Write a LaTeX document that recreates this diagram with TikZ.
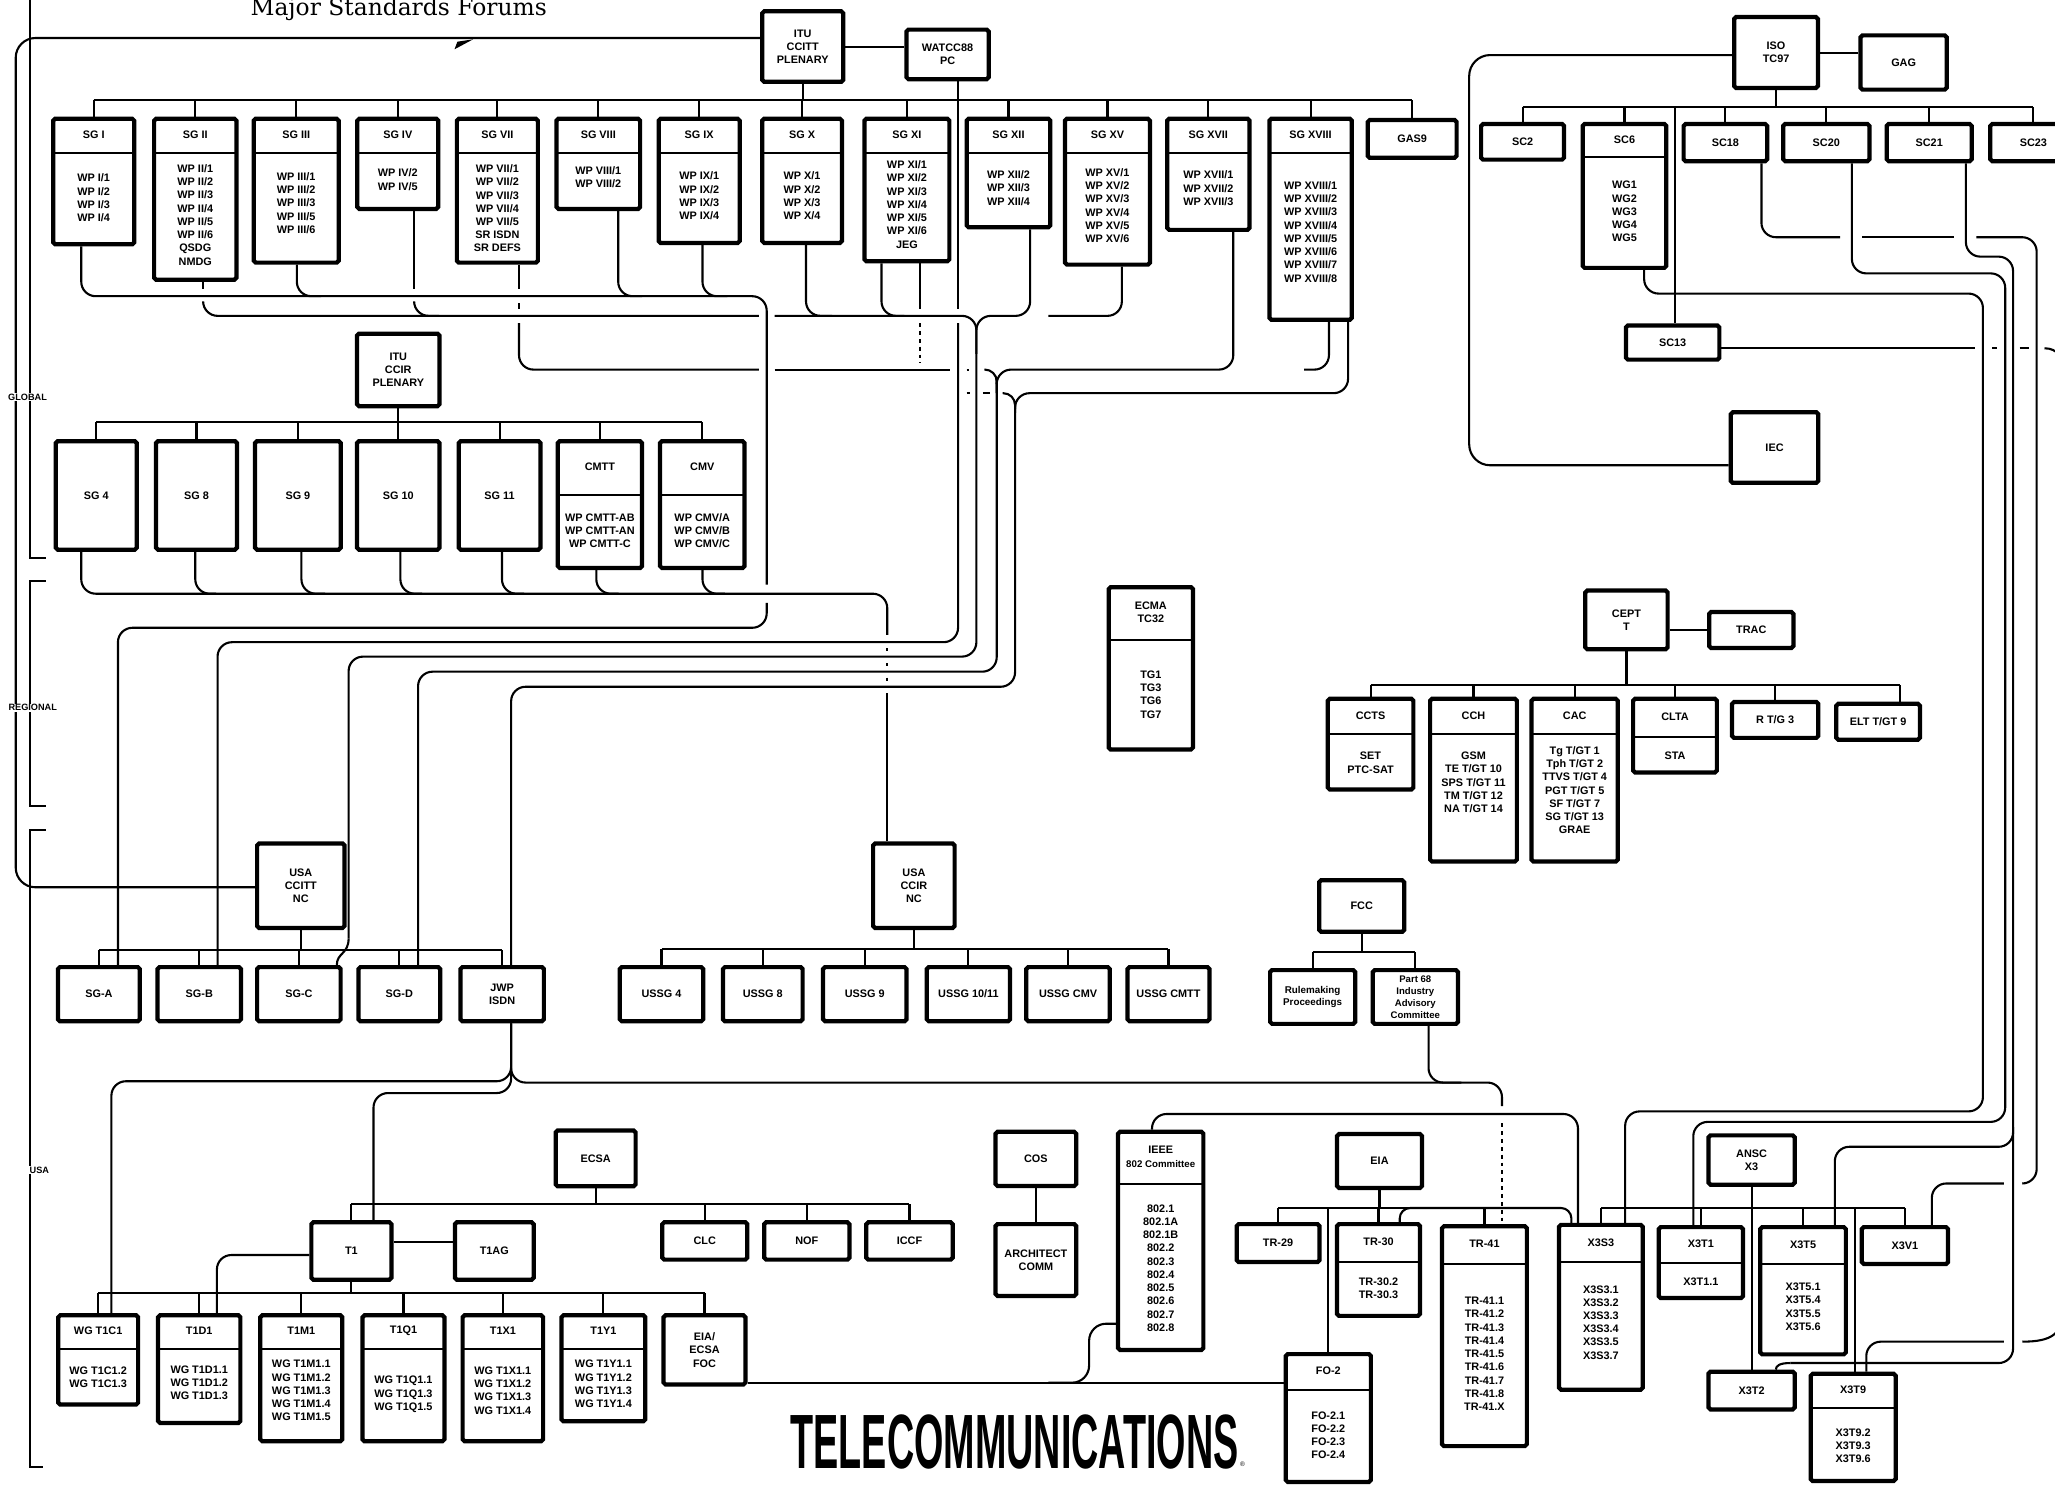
\documentclass[tikz,border=0pt]{standalone}
\usepackage{fontspec}
\usepackage{graphicx}
\newfontfamily\bxf{Liberation Sans}
\newfontfamily\ttlf{DejaVu Serif}
\usetikzlibrary{backgrounds}
\tikzset{
 bx/.style={draw, line width=3.2pt, fill=white, rounded corners=1.5pt, inner sep=1pt, align=center, font=\bxf\bfseries\fontsize{8.3}{10.1}\selectfont},
 tx/.style={inner sep=0pt, align=center, font=\bxf\bfseries\fontsize{8.3}{10.1}\selectfont},
 cn/.style={line width=1.6pt},
 rc/.style={rounded corners=11pt},
 sepl/.style={line width=1.6pt},
 brk/.style={line width=1.5pt},
 lbl/.style={fill=white, inner sep=0.6pt, font=\bxf\bfseries\fontsize{7}{8}\selectfont},
}
% plain box: [opts]{name}{x1}{y1}{x2}{y2}{text}
\newcommand{\BX}[7][]{%
 \node[bx,#1,minimum width={#5-#3-3.2},minimum height={#6-#4-3.2}] (#2) at ({(#3+#5)/2},{(#4+#6)/2}) {#7};}
% header box: {name}{x1}{y1}{x2}{y2}{sep}{bodyY}{head}{body}
\newcommand{\HB}[9]{%
 \node[bx,minimum width={#4-#2-3.2},minimum height={#5-#3-3.2}] (#1) at ({(#2+#4)/2},{(#3+#5)/2}) {};
 \draw[sepl] ({#2+1.6},#6) -- ({#4-1.6},#6);
 \node[tx] (#1-h) at ({(#2+#4)/2},{(#3+#6)/2}) {#8};
 \node[tx] (#1-b) at ({(#2+#4)/2},#7) {#9};}
\begin{document}
\begin{tikzpicture}[x=1pt,y=-1pt]
\useasboundingbox (0,0) rectangle (1568,1133);

% ---------- CCITT ----------
\BX{itu}{580}{7}{645}{64}{ITU\\CCITT\\PLENARY}
\BX{watcc}{690}{21}{756}{62}{WATCC88\\PC}
\HB{sg1}{39}{89}{104}{188}{117}{151}{SG I}{WP I/1\\WP I/2\\WP I/3\\WP I/4}
\HB{sg2}{116}{89}{182}{215}{117}{164}{SG II}{WP II/1\\WP II/2\\WP II/3\\WP II/4\\WP II/5\\WP II/6\\QSDG\\NMDG}
\HB{sg3}{192}{89}{260}{202}{117}{155}{SG III}{WP III/1\\WP III/2\\WP III/3\\WP III/5\\WP III/6}
\HB{sg4}{271}{89}{336}{161}{117}{137}{SG IV}{WP IV/2\\WP IV/5}
\HB{sg7}{347}{89}{412}{202}{117}{159}{SG VII}{WP VII/1\\WP VII/2\\WP VII/3\\WP VII/4\\WP VII/5\\SR ISDN\\SR DEFS}
\HB{sg8}{423}{89}{490}{161}{117}{135}{SG VIII}{WP VIII/1\\WP VIII/2}
\HB{sg9}{501}{89}{566}{187}{117}{149.5}{SG IX}{WP IX/1\\WP IX/2\\WP IX/3\\WP IX/4}
\HB{sg10}{580}{89}{644}{187}{117}{149.5}{SG X}{WP X/1\\WP X/2\\WP X/3\\WP X/4}
\HB{sg11}{658}{89}{726}{201}{117}{156}{SG XI}{WP XI/1\\WP XI/2\\WP XI/3\\WP XI/4\\WP XI/5\\WP XI/6\\JEG}
\HB{sg12}{736}{89}{803}{175}{117}{143.5}{SG XII}{WP XII/2\\WP XII/3\\WP XII/4}
\HB{sg15}{811}{89}{879}{203.5}{117}{157}{SG XV}{WP XV/1\\WP XV/2\\WP XV/3\\WP XV/4\\WP XV/5\\WP XV/6}
\HB{sg17}{889}{89}{955}{177}{117}{143.7}{SG XVII}{WP XVII/1\\WP XVII/2\\WP XVII/3}
\HB{sg18}{967}{89}{1033}{245.6}{117}{177}{SG XVIII}{WP XVIII/1\\WP XVIII/2\\WP XVIII/3\\WP XVIII/4\\WP XVIII/5\\WP XVIII/6\\WP XVIII/7\\WP XVIII/8}
\BX{gas9}{1042}{90}{1113}{122}{GAS9}

% ---------- CCIR ----------
\BX{ccir}{270.8}{253}{337}{311.5}{ITU\\CCIR\\PLENARY}
\BX{sg4r}{41}{335}{106}{421}{SG 4}
\BX{sg8r}{117.5}{335}{182.4}{421}{SG 8}
\BX{sg9r}{193}{335}{261.6}{421}{SG 9}
\BX{sg10r}{270.8}{335}{337}{421}{SG 10}
\BX{sg11r}{348.4}{335}{414}{421}{SG 11}
\HB{cmtt}{424}{335}{491.5}{435}{377.7}{405}{CMTT}{WP CMTT-AB\\WP CMTT-AN\\WP CMTT-C}
\HB{cmv}{502}{335}{569.7}{435}{377.7}{405}{CMV}{WP CMV/A\\WP CMV/B\\WP CMV/C}

% ---------- USA CCITT / CCIR ----------
\BX{uccitt}{194.6}{642}{264.5}{709.6}{USA\\CCITT\\NC}
\BX{sga}{42.6}{736.3}{108.3}{780.8}{SG-A}
\BX{sgb}{118.6}{736.3}{185.5}{780.8}{SG-B}
\BX{sgc}{194.6}{736.3}{261.5}{780.8}{SG-C}
\BX{sgd}{271.9}{736.3}{337.5}{780.8}{SG-D}
\BX{jwp}{349.7}{736.3}{416.6}{780.8}{JWP\\ISDN}
\BX{uccir}{664.6}{642}{730}{709.6}{USA\\CCIR\\NC}
\BX{ussga}{471.3}{736.3}{538.2}{780.8}{USSG 4}
\BX{ussgb}{550}{736.3}{614}{780.8}{USSG 8}
\BX{ussgc}{626.4}{736.3}{693.3}{780.8}{USSG 9}
\BX{ussgd}{705.5}{736.3}{772.3}{780.8}{USSG 10/11}
\BX{ussge}{781.5}{736.3}{848.4}{780.8}{USSG CMV}
\BX{ussgf}{858.7}{736.3}{924.4}{780.8}{USSG CMTT}

% ---------- ECMA ----------
\HB{ecma}{844.4}{446.4}{911.8}{573.5}{488.3}{530}{ECMA\\TC32}{TG1\\TG3\\TG6\\TG7}

% ---------- ISO ----------
\BX{iso}{1321.6}{11.4}{1388.7}{68.7}{ISO\\TC97}
\BX{gag}{1418}{25.4}{1487}{70}{GAG}
\BX{sc2}{1128.5}{93}{1195}{123.4}{SC2}
\HB{sc6}{1206}{93}{1273}{206}{119.5}{161.5}{SC6}{WG1\\WG2\\WG3\\WG4\\WG5}
\BX{sc18}{1283}{93}{1350}{124.6}{SC18}
\BX{sc20}{1359}{93}{1428}{124.6}{SC20}
\BX{sc21}{1438}{93}{1506}{124.6}{SC21}
\BX{sc23}{1517}{93}{1586}{124.6}{SC23}
\BX{sc13}{1239}{246.8}{1313.5}{276}{SC13}
\BX{iec}{1319}{313}{1389}{370}{IEC}

% ---------- CEPT ----------
\BX{cept}{1208}{449}{1274}{497}{CEPT\\T}
\BX{trac}{1302.5}{465.4}{1370}{496}{TRAC}
\HB{ccts}{1011.5}{531.6}{1080}{604}{560}{582}{CCTS}{SET\\PTC-SAT}
\HB{cch}{1089.6}{531.6}{1159}{659}{560}{597}{CCH}{GSM\\TE T/GT 10\\SPS T/GT 11\\TM T/GT 12\\NA T/GT 14}
\HB{cac}{1167}{531.6}{1236}{659}{560}{603}{CAC}{Tg T/GT 1\\Tph T/GT 2\\TTVS T/GT 4\\PGT T/GT 5\\SF T/GT 7\\SG T/GT 13\\GRAE}
\HB{clta}{1244.5}{531.6}{1311.6}{591}{562}{577}{CLTA}{STA}
\BX{rtg}{1320}{534}{1389}{564.6}{R T/G 3}
\BX{elt}{1399.5}{535.4}{1466.5}{566}{ELT T/GT 9}

% ---------- FCC ----------
\BX{fcc}{1005}{670}{1073}{712.6}{FCC}
\BX[font=\bxf\bfseries\fontsize{7.5}{9.2}\selectfont]{rule}{967.5}{738.6}{1035.6}{782.8}{Rulemaking\\Proceedings}
\BX[font=\bxf\bfseries\fontsize{7.3}{9.2}\selectfont]{part}{1045.8}{738.6}{1114}{782.8}{Part 68\\Industry\\Advisory\\Committee}

% ---------- ECSA / T1 ----------
\BX{ecsa}{422.4}{861}{486.6}{906.7}{ECSA}
\BX{tone}{236}{931}{300.3}{978}{T1}
\BX{tag}{345.5}{931}{408.8}{978}{T1AG}
\BX{clc}{503.7}{931}{571.8}{962.7}{CLC}
\BX{nof}{581.5}{931}{649.7}{962.7}{NOF}
\BX{iccf}{659.4}{931}{728.5}{962.7}{ICCF}
\HB{wga}{42.8}{1002}{107}{1073.3}{1029.5}{1051}{WG T1C1}{WG T1C1.2\\WG T1C1.3}
\HB{wgb}{119}{1002}{185}{1087.3}{1029.5}{1055}{T1D1}{WG T1D1.1\\WG T1D1.2\\WG T1D1.3}
\HB{wgc}{197}{1002}{262.8}{1101.3}{1029.5}{1061}{T1M1}{WG T1M1.1\\WG T1M1.2\\WG T1M1.3\\WG T1M1.4\\WG T1M1.5}
\HB{wgd}{275}{1002}{340.7}{1101.3}{1029.5}{1064}{T1Q1}{WG T1Q1.1\\WG T1Q1.3\\WG T1Q1.5}
\HB{wge}{351.4}{1002}{416}{1101.3}{1029.5}{1061}{T1X1}{WG T1X1.1\\WG T1X1.2\\WG T1X1.3\\WG T1X1.4}
\HB{wgf}{426.8}{1002}{494}{1086}{1029.5}{1056}{T1Y1}{WG T1Y1.1\\WG T1Y1.2\\WG T1Y1.3\\WG T1Y1.4}
\BX{foc}{504.7}{1002}{570.4}{1058}{EIA/\\ECSA\\FOC}

% ---------- COS / IEEE / EIA ----------
\BX{cos}{758}{862}{822.8}{906.5}{COS}
\BX{arch}{758}{932.4}{822.8}{990.4}{ARCHITECT\\COMM}
\HB{ieee}{851.5}{862}{919.8}{1031.6}{903.4}{967.5}{IEEE\\{\fontsize{7.4}{9}\selectfont 802 Committee}}{802.1\\802.1A\\802.1B\\802.2\\802.3\\802.4\\802.5\\802.6\\802.7\\802.8}
\BX{eia}{1018.6}{863.7}{1086.6}{908}{EIA}
\BX{trnine}{942}{932.4}{1008.4}{964.5}{TR-29}
\HB{trthirty}{1018.6}{932.4}{1085}{1005.6}{963}{983}{TR-30}{TR-30.2\\TR-30.3}
\HB{trfortyone}{1098.7}{934}{1166.6}{1105}{964.5}{1033}{TR-41}{TR-41.1\\TR-41.2\\TR-41.3\\TR-41.4\\TR-41.5\\TR-41.6\\TR-41.7\\TR-41.8\\TR-41.X}
\HB{fotwo}{979.4}{1031.6}{1047.6}{1132.3}{1060.6}{1095}{FO-2}{FO-2.1\\FO-2.2\\FO-2.3\\FO-2.4}

% ---------- ANSC X3 ----------
\BX{ansc}{1302}{864.7}{1371}{905.5}{ANSC\\X3}
\HB{xss}{1188}{933}{1255}{1062}{963}{1009}{X3S3}{X3S3.1\\X3S3.2\\X3S3.3\\X3S3.4\\X3S3.5\\X3S3.7}
\HB{xta}{1264}{934.7}{1331.5}{992}{963.5}{978}{X3T1}{X3T1.1}
\HB{xtf}{1341.5}{934.7}{1410}{1035}{964.5}{997}{X3T5}{X3T5.1\\X3T5.4\\X3T5.5\\X3T5.6}
\BX{xva}{1419}{934.7}{1488}{966}{X3V1}
\BX{xtb}{1302}{1045}{1371}{1077}{X3T2}
\HB{xtn}{1380}{1046.6}{1448}{1131.6}{1074.5}{1103}{X3T9}{X3T9.2\\X3T9.3\\X3T9.6}

% ---------- title, logo, brackets ----------
\node[anchor=base west, inner sep=0pt] (title) at (191,12) {\resizebox{226pt}{!}{\ttlf Major Standards Forums}};
\node[anchor=north west, inner sep=0pt] (logo) at (603,1079) {\resizebox{342pt}{41pt}{\bxf\bfseries TELECOMMUNICATIONS}};
\node[anchor=base west, inner sep=0pt, font=\bxf\fontsize{5}{5}\selectfont] (regmark) at (946,1119) {®};
\draw[brk] (23,0) -- (23,426) -- (35,426);
\draw[brk] (35,443) -- (23,443) -- (23,615) -- (35,615);
\draw[brk] (35,633) -- (23,633) -- (23,1119) -- (33,1119);
\node[lbl] (lglobal) at (21,303) {GLOBAL};
\node[lbl] (lregional) at (25,540) {REGIONAL};
\node[lbl] (lusa) at (30,893) {USA};

\begin{pgfonlayer}{background}
\fill[white] (0,0) rectangle (1568,1133);

% CCITT top
\draw[cn] (itu.east |- 0,36) -- (watcc.west |- 0,36);
\draw[cn,rounded corners=15pt] (itu.west |- 0,29) -| (12,677) -- (uccitt.west |- 0,677);
\fill (346.8,37.6) -- (361,30) -- (349,31.8) -- cycle;
\draw[cn] (itu.south) -- (itu.south |- 0,76);
\draw[cn] (sg1.north |- 0,76) -- (gas9.north |- 0,76);
\foreach \n in {sg1,sg2,sg3,sg4,sg7,sg8,sg9,sg10,sg11,sg12,sg15,sg17,sg18,gas9}
  \draw[cn] (\n.north) -- (\n.north |- 0,76);

% lane 1 -> SG-A
\draw[cn,rc] (sg1.south -| 62,0) |- (585,226) -- (585,446);
\draw[cn,rc] (585,460) |- (90,479) -- (sga.north -| 90,0);
\draw[cn,rc] (sg3.south -| 226.5,0) |- (245,226);
\draw[cn,rc] (sg8.south -| 471.7,0) |- (490,226);
\draw[cn,rc] (sg9.south -| 536,0) |- (555,226);

% lane 2 -> SG-C
\draw[cn] (sg2.south -| 155,0) -- (155,220.5);
\draw[cn,rc] (155,231.5) |- (579,241);
\draw[cn] (sg4.south -| 316,0) -- (316,220.5);
\draw[cn,rc] (316,231.5) |- (335,241);
\draw[cn,rc] (591,241) -| (745,501) -| (266,716);
\draw[cn] (266,716) .. controls (266,728) and (257,727) .. (sgc.north -| 257,0);
\draw[cn,rc] (sg10.south -| 615,0) |- (635,241);
\draw[cn,rc] (sg11.south -| 672.6,0) |- (690,241);
\draw[cn,rc] (sg12.south -| 786,0) |- (745,241) -- (745,270);
\draw[cn,rc] (sg15.south -| 856,0) |- (800,241);

% lane 3 -> SG-D
\draw[cn] (sg7.south -| 396,0) -- (396,220.5);
\draw[cn] (396,231.5) -- (396,235.5);
\draw[cn,rc] (396,246.5) |- (579,282);
\draw[cn] (591,282) -- (725,282);
\draw[cn] (737.5,282) -- (739.5,282);
\draw[cn,rounded corners=9pt] (751,282) -| (760.5,300);
\draw[cn,rc] (sg17.south -| 941,0) |- (760.5,282) -- (760.5,292);
\draw[cn,rc] (sg18.south -| 1014,0) |- (995,282);
\draw[cn,rc] (760.5,288) |- (319,512.5) -- (sgd.north -| 319,0);

% lane 4 -> JWP ISDN
\draw[cn,rc] (sg18.south -| 1028.6,0) |- (774.5,300) -- (774.5,312);
\draw[cn,rounded corners=9pt] (765,300) -| (774.5,315);
\draw[cn] (737.5,300) -- (740,300);
\draw[cn] (750,300) -- (755,300);
\draw[cn,rc] (774.5,306) |- (390,524) -- (jwp.north -| 390,0);

% WATCC88 -> SG-B
\draw[cn] (watcc.south -| 731,0) -- (731,235.5);
\draw[cn,rc] (731,246.5) |- (166,490) -- (sgb.north -| 166,0);

% SG XI second line
\draw[cn] (sg11.south -| 702,0) -- (702,235.5);
\draw[cn,dashed] (702,246.5) -- (702,277);

% CCIR
\draw[cn] (ccir.south) -- (ccir.south |- 0,322);
\draw[cn] (sg4r.north |- 0,322) -- (cmv.north |- 0,322);
\foreach \n in {sg4r,sg8r,sg9r,sg10r,sg11r,cmtt,cmv}
  \draw[cn] (\n.north) -- (\n.north |- 0,322);
\draw[cn,rc] (sg4r.south -| 62,0) |- (677,453) -- (677,484.5);
\draw[cn] (677,494.5) -- (677,496.5);
\draw[cn] (677,506) -- (677,508);
\draw[cn] (677,517) -- (677,519.5);
\draw[cn] (677,529) -- (uccir.north -| 677,0);
\draw[cn,rc] (sg8r.south -| 149,0) |- (165,453);
\draw[cn,rc] (sg9r.south -| 230,0) |- (248,453);
\draw[cn,rc] (sg10r.south -| 305.5,0) |- (322,453);
\draw[cn,rc] (sg11r.south -| 383,0) |- (400,453);
\draw[cn,rc] (cmtt.south -| 455,0) |- (472,453);
\draw[cn,rc] (cmv.south -| 536,0) |- (553,453);

% USA CCITT / CCIR buses
\draw[cn] (uccitt.south) -- (uccitt.south |- 0,725);
\draw[cn] (sga.north |- 0,725) -- (jwp.north |- 0,725);
\foreach \n in {sga,sgb,sgc,sgd,jwp}
  \draw[cn] (\n.north) -- (\n.north |- 0,725);
\draw[cn] (uccir.south) -- (uccir.south |- 0,724);
\draw[cn] (ussga.north |- 0,724) -- (ussgf.north |- 0,724);
\foreach \n in {ussga,ussgb,ussgc,ussgd,ussge,ussgf}
  \draw[cn] (\n.north) -- (\n.north |- 0,724);

% JWP ISDN below
\draw[cn,rc] (jwp.south -| 390,0) |- (85,825) -- (wga.north -| 85,0);
\draw[cn,rc] (jwp.south -| 390,0) |- (285,834) -- (tone.north -| 285,0);
\draw[cn,rc] (jwp.south -| 390,0) |- (1146,826) -- (1146,844);
\draw[cn,dashed] (1146,857) -- (trfortyone.north -| 1146,0);
\draw[cn,rc] (part.south -| 1090,0) |- (1115,826);

% ECSA / T1
\draw[cn] (ecsa.south) -- (ecsa.south |- 0,918.7);
\draw[cn] (tone.north |- 0,918.7) -- (iccf.north |- 0,918.7);
\foreach \n in {tone,clc,nof,iccf}
  \draw[cn] (\n.north) -- (\n.north |- 0,918.7);
\draw[cn] (tone.east |- 0,947.4) -- (tag.west |- 0,947.4);
\draw[cn] (tone.south) -- (tone.south |- 0,986.8);
\draw[cn] (wga.north |- 0,986.8) -- (foc.north |- 0,986.8);
\foreach \n in {wga,wgb,wgc,wgd,wge,wgf,foc}
  \draw[cn] (\n.north) -- (\n.north |- 0,986.8);
\draw[cn,rc] (tone.west |- 0,957.6) -| (wgb.north -| 165.5,0);
\draw[cn] (foc.east |- 0,1055) -- (fotwo.west |- 0,1055);
\draw[cn,rounded corners=13pt] (800,1055) -| (831,1010) -- (ieee.west |- 0,1010);

% COS
\draw[cn] (cos.south) -- (arch.north);

% IEEE -> X3S3
\draw[cn,rc] (ieee.north -| 879,0) |- (1204,850) -- (xss.north -| 1204,0);

% FCC
\draw[cn] (fcc.south) -- (fcc.south |- 0,726.4);
\draw[cn] (rule.north |- 0,726.4) -- (part.north |- 0,726.4);
\draw[cn] (rule.north) -- (rule.north |- 0,726.4);
\draw[cn] (part.north) -- (part.north |- 0,726.4);

% EIA
\draw[cn] (eia.south) -- (eia.south |- 0,921.7);
\draw[cn] (trnine.north |- 0,921.7) -- (trfortyone.north |- 0,921.7);
\foreach \n in {trnine,trthirty,trfortyone}
  \draw[cn] (\n.north) -- (\n.north |- 0,921.7);
\draw[cn] (fotwo.north |- 0,921.7) -- (fotwo.north);
\draw[cn,rounded corners=8pt] (trthirty.north -| 1068,0) |- (1199,921.7) -- (xss.north -| 1199,0);

% ANSC X3
\draw[cn] (xss.north |- 0,922) -- (xva.north |- 0,922);
\foreach \n in {xss,xta,xtf,xva}
  \draw[cn] (\n.north) -- (\n.north |- 0,922);
\draw[cn] (ansc.south) -- (xtb.north);
\draw[cn] (1415.4,922) -- (xtn.north -| 1415.4,0);

% CEPT
\draw[cn] (cept.east |- 0,480.7) -- (trac.west |- 0,480.7);
\draw[cn] (cept.south) -- (cept.south |- 0,522.7);
\draw[cn] (ccts.north |- 0,522.7) -- (1450,522.7);
\foreach \n in {ccts,cch,cac,clta,rtg}
  \draw[cn] (\n.north) -- (\n.north |- 0,522.7);
\draw[cn] (1450,522.7) -- (elt.north -| 1450,0);

% ISO
\draw[cn] (iso.east |- 0,40.7) -- (gag.west |- 0,40.7);
\draw[cn] (iso.south) -- (iso.south |- 0,81.4);
\draw[cn] (sc2.north |- 0,81.4) -- (sc23.north |- 0,81.4);
\foreach \n in {sc2,sc6,sc18,sc20,sc21,sc23}
  \draw[cn] (\n.north) -- (\n.north |- 0,81.4);
\draw[cn] (1277.7,81.4) -- (sc13.north -| 1277.7,0);
\draw[cn,rounded corners=16pt] (iso.west |- 0,42) -| (1121,355) -- (iec.west |- 0,355);

% ISO -> X3 bundle
\draw[cn,rc] (sc6.south -| 1254.5,0) |- (1513,224) |- (1240,848) -- (xss.north -| 1240,0);
\draw[cn,rc] (sc20.south -| 1413,0) |- (1530,208.6) |- (1292,856) -- (xta.north -| 1292,0);
\draw[cn,rc] (sc21.south -| 1500,0) |- (1536,195.8) |- (1366,1040);
\draw[cn] (1366,1040) .. controls (1358,1040) and (1355,1042) .. (xtb.north -| 1355,0);
\draw[cn,rc] (1536,860) |- (1400,875) -- (xtf.north -| 1400,0);
\draw[cn,rc] (sc18.south -| 1344,0) |- (1404,181);
\draw[cn] (1421,181) -- (1491,181);
\draw[cn,rc] (1508,181) -| (1554,903) -- (1543,903);
\draw[cn,rc] (1529,903) -| (xva.north -| 1474,0);
\draw[cn] (sc13.east |- 0,265.7) -- (1507,265.7);
\draw[cn] (1520,265.7) -- (1524,265.7);
\draw[cn] (1541,265.7) -- (1548,265.7);
\draw[cn] (1560,265.7) .. controls (1570,266) and (1574,272) .. (1574,285) -- (1574,1000) .. controls (1574,1018) and (1565,1023.7) .. (1543,1023.7);
\draw[cn,rc] (1529,1023.7) -| (xtn.north -| 1424,0);
\end{pgfonlayer}
\end{tikzpicture}
\end{document}
